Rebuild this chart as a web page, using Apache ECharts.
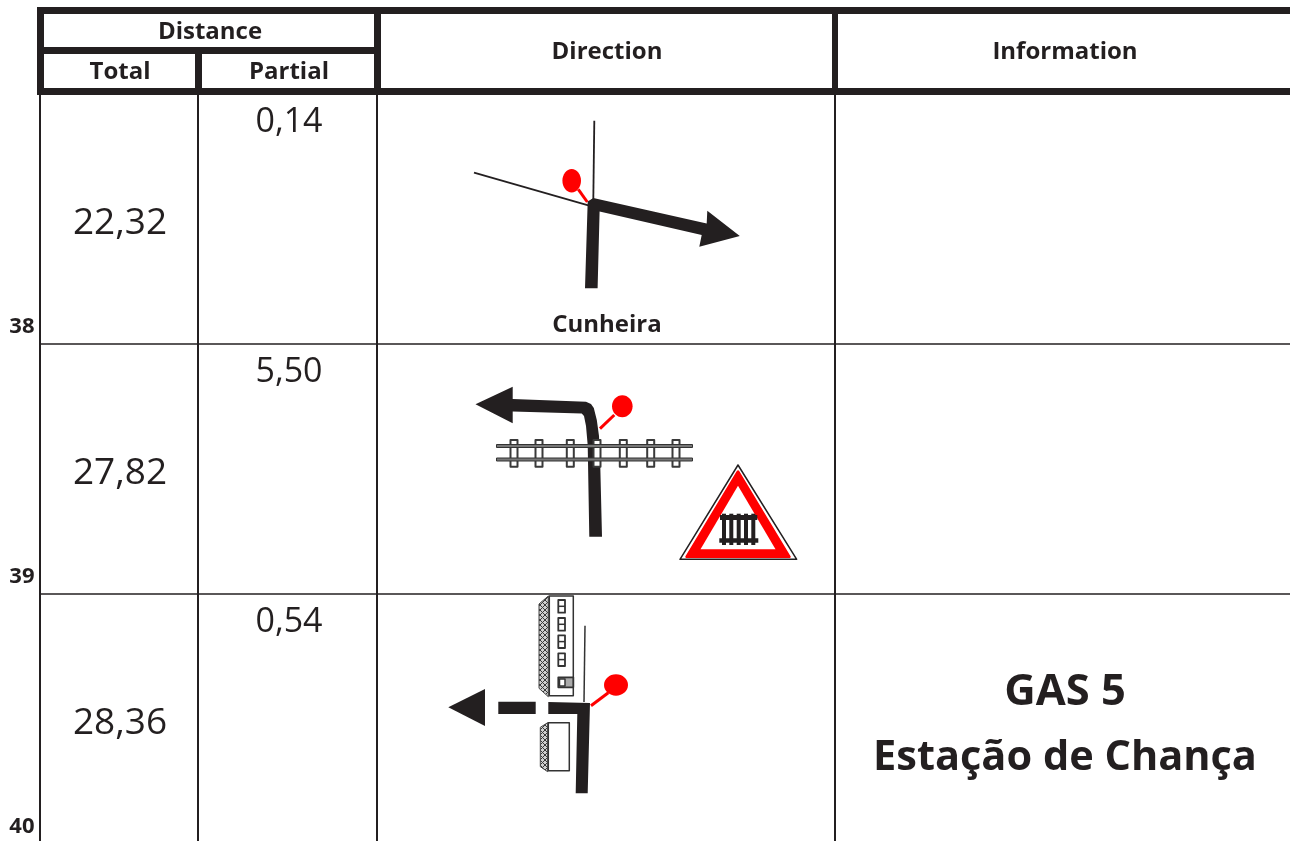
<!DOCTYPE html>
<html>
<head>
<meta charset="utf-8">
<title>Road book</title>
<script src="https://cdn.jsdelivr.net/npm/echarts@6/dist/echarts.min.js"></script>
<style>
    html, body { margin: 0; padding: 0; background: #fff; }
    #chart { width: 1290px; height: 841px; }
</style>
</head>
<body>
<div id="chart"></div>
<script>
// table content
var rowNumbers = ['38', '39', '40'];
var totals = ['22,32', '27,82', '28,36'];
var partials = ['0,14', '5,50', '0,54'];
var headers = ['Distance', 'Total', 'Partial', 'Direction', 'Information'];
var placeName = 'Cunheira';
var infoLines = ['GAS 5', 'Estação de Chança'];

var INK = '#231f20';
var RED = '#ff0000';
var FONT = '"Open Sans", sans-serif';

// everything is drawn in a page sized value scale, shapes are pushed in paint order
var shapes = [];

function rect(x0, y0, x1, y1, fill, stroke, lw) {
    shapes.push({ t: 'polygon', p: [[x0, y0], [x1, y0], [x1, y1], [x0, y1]], fill: fill, stroke: stroke, lw: lw });
}
function poly(p, fill, stroke, lw) {
    shapes.push({ t: 'polygon', p: p, fill: fill, stroke: stroke, lw: lw });
}
function line(p, stroke, lw) {
    shapes.push({ t: 'polyline', p: p, stroke: stroke, lw: lw });
}
function oval(cx, cy, rx, ry) {
    shapes.push({ t: 'ellipse', cx: cx, cy: cy, rx: rx, ry: ry });
}
function label(text, x, y, size, bold, align) {
    shapes.push({ t: 'text', text: text, x: x, y: y, size: size, bold: bold, align: align || 'center' });
}

// hatch for the building edges
var hatch = document.createElement('canvas');
hatch.width = 5;
hatch.height = 5;
var hctx = hatch.getContext('2d');
hctx.fillStyle = '#cfcfcf';
hctx.fillRect(0, 0, 5, 5);
hctx.strokeStyle = '#3a3a3a';
hctx.lineWidth = 1;
hctx.beginPath();
hctx.moveTo(0, 0); hctx.lineTo(5, 5);
hctx.moveTo(5, 0); hctx.lineTo(0, 5);
hctx.stroke();
var hatchFill = { image: hatch, repeat: 'repeat' };

// body rules
[40, 198, 377, 835].forEach(function (x) {
    rect(x - 1, 90, x + 1, 841, INK);
});
[344, 594].forEach(function (y) {
    rect(40, y - 0.8, 1290, y + 0.8, INK);
});

// header rules
rect(37, 7, 1290, 14, INK);
rect(37, 88, 1290, 95, INK);
rect(37, 7, 44, 95, INK);
rect(37, 47, 380, 54, INK);
rect(195, 54, 202, 95, INK);
rect(374, 7, 381, 95, INK);
rect(832, 7, 838, 95, INK);

label(headers[0], 210, 32, 24, true);
label(headers[1], 120, 72, 24, true);
label(headers[2], 289, 72, 24, true);
label(headers[3], 607, 52, 24, true);
label(headers[4], 1065, 52, 24, true);

// row texts
[0, 1, 2].forEach(function (i) {
    var base = 250 * i;
    label(rowNumbers[i], 34.5, 326.5 + base, 22, true, 'right');
    label(totals[i], 120, 223 + base, 37, false);
    label(partials[i], 289, 122 + base, 34, false);
});
label(placeName, 607, 325, 24, true);
label(infoLines[0], 1065, 693, 43.5, true);
label(infoLines[1], 1065, 758.5, 41.5, true);

// row 38, turn right
line([[594.3, 120.7], [593.3, 200]], INK, 1.8);
line([[474, 172.7], [588.3, 205.3]], INK, 1.8);
line([[578.3, 189.3], [587.3, 202]], RED, 3);
oval(571.7, 180.7, 9.3, 11.7);
poly([[585, 288.3], [597.6, 288.3], [599.6, 211.5], [701.7, 235], [699.3, 246.7], [739.8, 236],
    [707.3, 210.7], [706.7, 223.5], [593.3, 198], [587.7, 201.5]], INK);

// row 39, level crossing
poly([[589.3, 536.7], [602, 536.7], [600.3, 466.7], [599, 436], [596.8, 420], [593.8, 408],
    [591, 404], [586, 401.7], [512.7, 399], [512.7, 386.7], [475.5, 404.3], [512.7, 423.3],
    [512.7, 411.5], [581.7, 413.5], [584, 416], [586, 426], [587.7, 445]], INK);
line([[614.3, 415], [600, 428.7]], RED, 3);
oval(622.3, 406.3, 10.3, 11);
[514, 539, 570.3, 597, 623.3, 650.7, 676].forEach(function (x) {
    rect(x - 3.5, 440, x + 3.5, 466.7, '#fff', '#3a3a3a', 2);
});
rect(496.5, 444.5, 692.5, 447.5, '#777', '#333', 1);
rect(496.5, 458, 692.5, 461, '#777', '#333', 1);

// railway warning sign
poly([[738, 465], [680, 559.3], [796.7, 559.3]], '#fff', INK, 1.5);
poly([[738, 471.5], [686.5, 556.8], [789.5, 556.8]], RED, RED, 2.5);
poly([[738, 485.7], [700.5, 549.3], [775.5, 549.3]], '#fff');
[724, 731.3, 738.7, 746, 753.3].forEach(function (x) {
    rect(x - 2, 513.7, x + 2, 545, INK);
});
rect(720, 515, 757.3, 520, INK);
rect(719.3, 538.3, 758.3, 542.7, INK);

// row 40, buildings and crossroad
poly([[548.3, 596], [539, 604], [539, 688.3], [548.3, 696.7]], hatchFill, '#444', 1);
rect(549.3, 596, 573.3, 695.7, '#fff', '#333', 1.5);
[600, 618, 635.3, 653.3].forEach(function (y) {
    rect(558.3, y, 565, y + 12.7, '#fff', '#333', 1.8);
    line([[558.3, y + 6.3], [565, y + 6.3]], '#333', 1.5);
});
rect(558.3, 677.3, 573.3, 687.3, '#aaa', '#333', 1.8);
rect(559.5, 679, 565, 686, '#fff', '#333', 1.5);
poly([[547.7, 722.7], [540.3, 727.3], [540.3, 766.7], [547.7, 771.7]], hatchFill, '#444', 1);
rect(548.3, 722.7, 569.3, 770.7, '#fff', '#333', 1.5);
line([[585, 625.7], [584, 702]], '#333', 1.5);
line([[608.3, 692.7], [591, 705.7]], RED, 3);
oval(616, 685, 12, 10.7);
poly([[590, 703], [587.7, 793.3], [575.7, 793.3], [577.3, 714], [548.3, 714], [548.3, 702]], INK);
rect(498.3, 701.7, 535.7, 714, INK);
poly([[448.3, 707.3], [485, 689], [485, 726]], INK);

function renderShape(params, api) {
    var s = shapes[params.dataIndex];
    if (s.t === 'text') {
        var at = api.coord([s.x, s.y]);
        return {
            type: 'text',
            x: at[0],
            y: at[1],
            style: {
                text: s.text,
                fill: INK,
                font: (s.bold ? 'bold ' : '') + s.size + 'px ' + FONT,
                align: s.align,
                verticalAlign: 'middle'
            }
        };
    }
    if (s.t === 'ellipse') {
        var c = api.coord([s.cx, s.cy]);
        return {
            type: 'ellipse',
            shape: { cx: c[0], cy: c[1], rx: s.rx, ry: s.ry },
            style: { fill: RED }
        };
    }
    var pts = s.p.map(function (q) { return api.coord(q); });
    return {
        type: s.t,
        shape: { points: pts },
        style: {
            fill: s.t === 'polygon' ? s.fill : null,
            stroke: s.stroke || null,
            lineWidth: s.lw || 0,
            lineJoin: 'round'
        }
    };
}

var chart = echarts.init(document.getElementById('chart'));
chart.setOption({
    animation: false,
    backgroundColor: '#fff',
    grid: { left: 0, right: 0, top: 0, bottom: 0 },
    xAxis: { type: 'value', min: 0, max: 1290, show: false },
    yAxis: { type: 'value', min: 0, max: 841, inverse: true, show: false },
    series: [{
        type: 'custom',
        silent: true,
        clip: false,
        renderItem: renderShape,
        data: shapes.map(function (s, i) { return [i, 0]; })
    }]
});
</script>
</body>
</html>
